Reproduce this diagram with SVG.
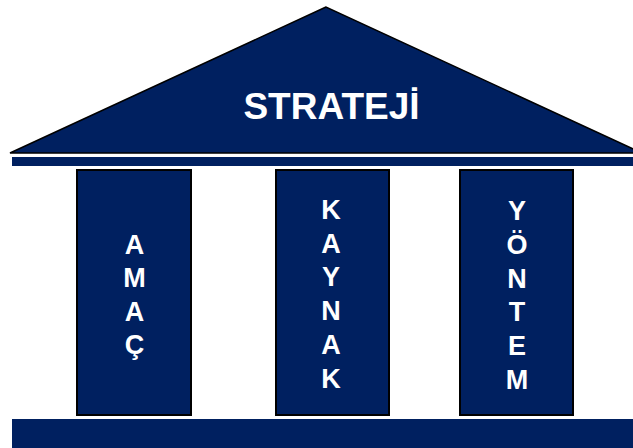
<svg xmlns="http://www.w3.org/2000/svg" width="633" height="448" viewBox="0 0 633 448">
<style>
.navy{fill:#002060}
.col{fill:#002060;stroke:#000;stroke-width:2}
.t{fill:#fff;font-family:"Liberation Sans",Arial,sans-serif;font-weight:bold;text-anchor:middle}
.l{font-size:27px}
</style>
<rect width="633" height="448" fill="#fff"/>
<g id="roof">
<polygon points="326,7 10,153 642,153" fill="#002060" stroke="#000" stroke-width="1.5"/>
<text class="t" x="331.5" y="119" font-size="37">STRATEJİ</text>
</g>
<g id="beam"><rect class="navy" x="12" y="157" width="621" height="9"/></g>
<g id="amac">
<rect class="col" x="77" y="170" width="114" height="245"/>
<text class="t l" x="134.5" y="254">A</text>
<text class="t l" x="134.5" y="287">M</text>
<text class="t l" x="134.5" y="321">A</text>
<text class="t l" x="134.5" y="354">Ç</text>
</g>
<g id="kaynak">
<rect class="col" x="276" y="170" width="113" height="245"/>
<text class="t l" x="331" y="219">K</text>
<text class="t l" x="331" y="253">A</text>
<text class="t l" x="331" y="286">Y</text>
<text class="t l" x="331" y="320">N</text>
<text class="t l" x="331" y="354">A</text>
<text class="t l" x="331" y="388">K</text>
</g>
<g id="yontem">
<rect class="col" x="460" y="170" width="113" height="245"/>
<text class="t l" x="517" y="220">Y</text>
<text class="t l" x="517" y="254">Ö</text>
<text class="t l" x="517" y="288">N</text>
<text class="t l" x="517" y="321">T</text>
<text class="t l" x="517" y="355">E</text>
<text class="t l" x="517" y="389">M</text>
</g>
<g id="base"><rect class="navy" x="12" y="419" width="621" height="29"/></g>
<g id="connectors"/>
</svg>
